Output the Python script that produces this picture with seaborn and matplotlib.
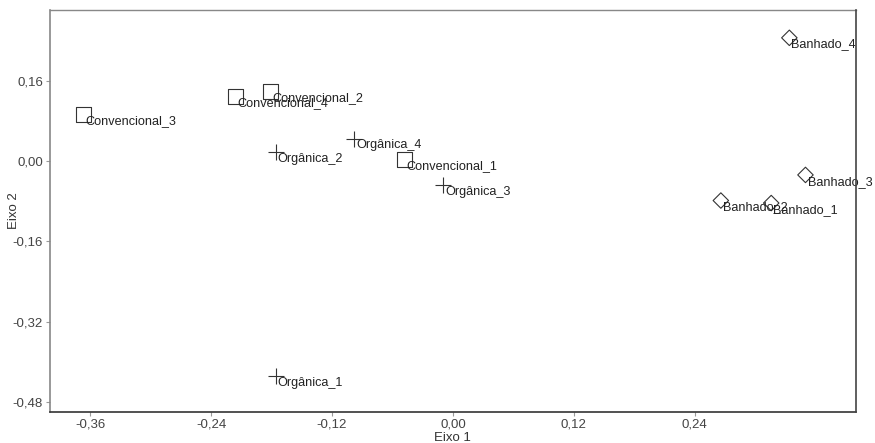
import pandas as pd
import matplotlib
matplotlib.use("Agg")
import matplotlib.pyplot as plt
import seaborn as sns
from matplotlib.ticker import FuncFormatter

# scores
labels = ["Convencional_1", "Convencional_2", "Convencional_3", "Convencional_4",
          "Orgânica_1", "Orgânica_2", "Orgânica_3", "Orgânica_4",
          "Banhado_1", "Banhado_2", "Banhado_3", "Banhado_4"]
groups = ["Convencional"] * 4 + ["Orgânica"] * 4 + ["Banhado"] * 4
eixo1 = [-0.048, -0.181, -0.367, -0.216,
         -0.176, -0.176, -0.010, -0.098,
         0.316, 0.266, 0.350, 0.334]
eixo2 = [0.002, 0.138, 0.093, 0.129,
         -0.429, 0.018, -0.048, 0.044,
         -0.084, -0.079, -0.028, 0.245]

df = pd.DataFrame({"label": labels, "grupo": groups, "Eixo 1": eixo1, "Eixo 2": eixo2})

sns.set_style("white")
plt.rcParams["font.family"] = ["Liberation Sans", "DejaVu Sans"]

fig = plt.figure(figsize=(8.75, 4.43), dpi=100)
ax = fig.add_axes([0.0571, 0.07, 0.921, 0.907])

ink = "#333333"
markers = {"Convencional": ("s", 117), "Orgânica": ("+", 130), "Banhado": ("D", 62)}
for g, (m, s) in markers.items():
    sub = df[df["grupo"] == g]
    if m == "+":
        sns.scatterplot(data=sub, x="Eixo 1", y="Eixo 2", marker=m, s=s,
                        color=ink, linewidth=0.8, ax=ax, legend=False)
    else:
        sns.scatterplot(data=sub, x="Eixo 1", y="Eixo 2", marker=m, s=s,
                        facecolor="none", edgecolor=ink, linewidth=0.8,
                        ax=ax, legend=False)

for _, r in df.iterrows():
    ax.annotate(r["label"], (r["Eixo 1"], r["Eixo 2"]), xytext=(1.5, -0.5),
                textcoords="offset points", ha="left", va="top",
                fontsize=9.1, color="#222222", annotation_clip=False)

ax.set_xlim(-0.40, 0.40)
ax.set_ylim(-0.50, 0.30)
ax.set_xticks([-0.36, -0.24, -0.12, 0.00, 0.12, 0.24])
ax.set_yticks([-0.48, -0.32, -0.16, 0.00, 0.16])
fmt = FuncFormatter(lambda v, p: f"{v:.2f}".replace(".", ",").replace("-0,00", "0,00"))
ax.xaxis.set_major_formatter(fmt)
ax.yaxis.set_major_formatter(fmt)
ax.tick_params(axis="both", direction="out", length=3, width=0.8, color="#999999",
               labelsize=9.5, labelcolor="#444444", pad=2, bottom=True, left=True)

ax.set_xlabel("Eixo 1", fontsize=9.5, color="#333333", labelpad=1)
ax.set_ylabel("Eixo 2", fontsize=9.5, color="#333333")
ax.yaxis.set_label_coords(-0.037, 0.5)

for side, c, lw in [("left", "#888888", 1.2), ("top", "#888888", 1.0),
                    ("bottom", "#333333", 1.2), ("right", "#444444", 1.2)]:
    ax.spines[side].set_visible(True)
    ax.spines[side].set_color(c)
    ax.spines[side].set_linewidth(lw)
ax.spines["right"].set_zorder(5)

fig.savefig("out.png", dpi=100)
